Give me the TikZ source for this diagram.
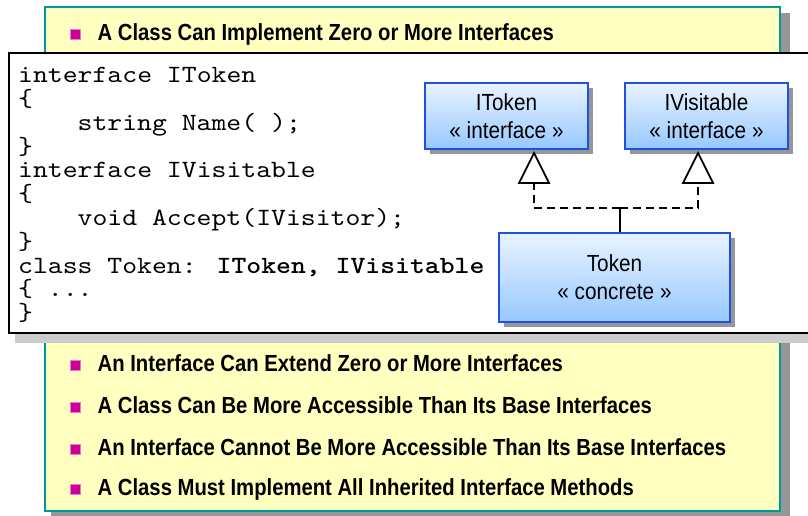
\documentclass[tikz,border=0pt]{standalone}
\usepackage{fontspec}
\setmainfont{Liberation Sans}
\newfontfamily\narrowfont[FakeStretch=0.87]{Liberation Sans}
\newfontfamily\umlfont[FakeStretch=0.89]{Liberation Sans}
\newfontfamily\codefont{lmmono10-regular.otf}[BoldFont=lmmonolt10-bold.otf, FakeStretch=1.143]
\usetikzlibrary{calc,shadows}
\definecolor{paper}{RGB}{255,255,192}
\definecolor{paperedge}{RGB}{0,153,153}
\definecolor{darkshadow}{RGB}{150,150,150}
\definecolor{lightshadow}{RGB}{204,204,204}
\definecolor{bulletfill}{RGB}{204,0,153}
\definecolor{bulletedge}{RGB}{240,120,200}
\definecolor{umlblue}{RGB}{30,80,230}
\definecolor{umltop}{RGB}{234,243,255}
\definecolor{umlbot}{RGB}{150,200,255}
\tikzset{
  bulletsq/.style={fill=bulletfill, draw=bulletedge, line width=0.6pt, minimum width=10pt, minimum height=10pt, inner sep=0pt},
  btext/.style={anchor=base west, inner sep=0pt, font=\narrowfont\bfseries\fontsize{23.3}{28}\selectfont},
  codeline/.style={anchor=base west, inner sep=0pt, font=\codefont\fontsize{24.8}{23.8}\selectfont},
  umlbox/.style={draw=umlblue, line width=1.5pt, top color=umltop, bottom color=umlbot, align=center,
    font=\umlfont\fontsize{23.3}{28}\selectfont, inner sep=0pt,
    drop shadow={shadow xshift=5pt, shadow yshift=-5pt, fill=darkshadow, opacity=1}},
  dashline/.style={line width=2.6pt, dash pattern=on 8pt off 5pt},
  stemline/.style={line width=2.6pt},
  tri/.style={line width=1.8pt, fill=white, line join=miter}
}
\begin{document}
\begin{tikzpicture}[x=1pt,y=-1pt]
\useasboundingbox (0,0) rectangle (808,516);
% yellow panel
\fill[darkshadow] (51,13) rectangle (790,522);
\draw[fill=paper, draw=paperedge, line width=2pt] (45,7) rectangle (780,511);
\node[bulletsq] (b0) at (75.5,34.7) {};
\node[btext] (t0) at (97.5,40.7) {A Class Can Implement Zero or More Interfaces};
% code box
\fill[lightshadow] (15,59) rectangle (830,343);
\draw[fill=white, draw=black, line width=2pt] (9,53) rectangle (830,333);
\node[codeline] (c0) at (18,82.7) {interface IToken};
\node[codeline] (c1) at (18,106.5) {\{};
\node[codeline] (c2) at (77.5,130.3) {string Name( );};
\node[codeline] (c3) at (18,154.1) {\}};
\node[codeline] (c4) at (18,177.9) {interface IVisitable};
\node[codeline] (c5) at (18,201.7) {\{};
\node[codeline] (c6) at (77.5,225.5) {void Accept(IVisitor);};
\node[codeline] (c7) at (18,249.3) {\}};
\node[codeline] (c8) at (18,273.1) {class Token: \textbf{IToken, IVisitable}};
\node[codeline] (c9) at (18,296.9) {\{ ...};
\node[codeline] (c10) at (18,320.7) {\}};
% UML
\node[umlbox, minimum width=163pt, minimum height=66pt] (itok) at (506.5,116) {IToken\\« interface »};
\node[umlbox, minimum width=163pt, minimum height=66pt] (ivis) at (706.5,116) {IVisitable\\« interface »};
\node[umlbox, minimum width=231pt, minimum height=89pt] (tok) at (614.5,277.5) {Token\\« concrete »};
\coordinate (tipA) at (534,153);
\coordinate (baseA) at (534,183);
\coordinate (tipB) at (698,153);
\coordinate (baseB) at (698,183);
\coordinate (jn) at (620,208);
\draw[stemline] (tok.north -| jn) -- (jn);
\draw[dashline] (jn) -| (baseA);
\draw[dashline] (jn) -| (baseB);
\draw[tri] ($(baseA)+(-15,0)$) -- (tipA) -- ($(baseA)+(15,0)$) -- cycle;
\draw[tri] ($(baseB)+(-15,0)$) -- (tipB) -- ($(baseB)+(15,0)$) -- cycle;
% bottom bullets
\node[bulletsq] (b1) at (75.5,365.7) {};
\node[btext] (t1) at (97.5,371.7) {An Interface Can Extend Zero or More Interfaces};
\node[bulletsq] (b2) at (75.5,407.3) {};
\node[btext] (t2) at (97.5,413.3) {A Class Can Be More Accessible Than Its Base Interfaces};
\node[bulletsq] (b3) at (75.5,449) {};
\node[btext] (t3) at (97.5,455) {An Interface Cannot Be More Accessible Than Its Base Interfaces};
\node[bulletsq] (b4) at (75.5,489) {};
\node[btext] (t4) at (97.5,495) {A Class Must Implement All Inherited Interface Methods};
\end{tikzpicture}
\end{document}
